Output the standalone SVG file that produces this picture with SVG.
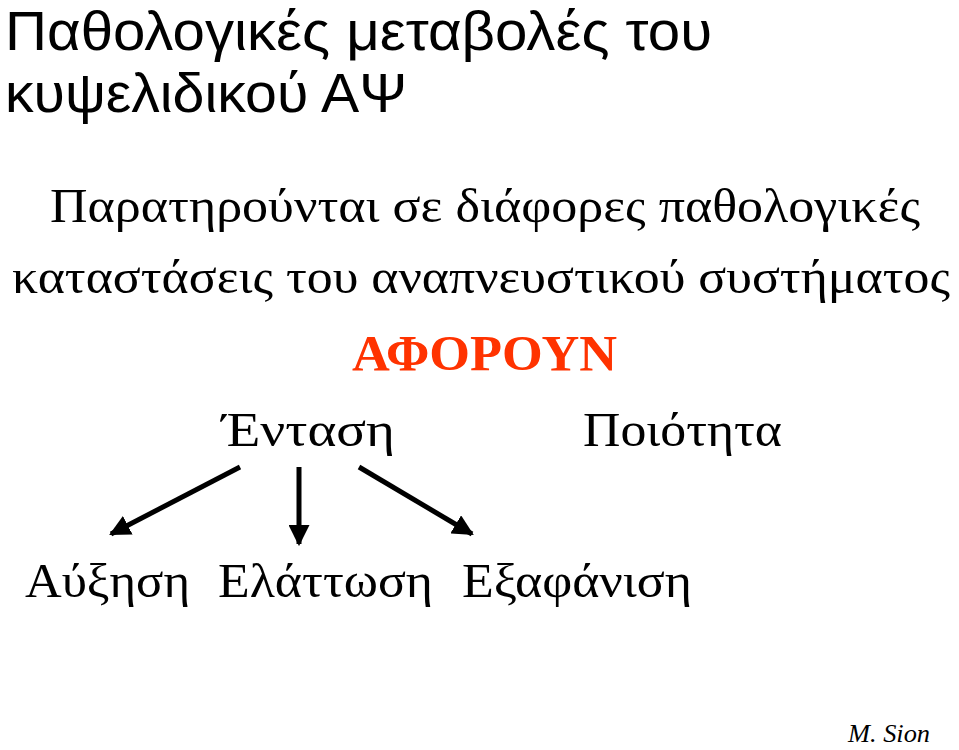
<svg xmlns="http://www.w3.org/2000/svg" width="959" height="750" viewBox="0 0 959 750">
<defs>
<style>
.title{font-family:"Liberation Sans","DejaVu Sans",sans-serif;font-size:55px;fill:#000}
.body{font-family:"Liberation Serif","DejaVu Serif",serif;font-size:49px;fill:#000}
.red{font-family:"Liberation Serif",serif;font-size:50px;font-weight:bold;fill:#FF3300}
.sig{font-family:"Liberation Serif",serif;font-style:italic;font-size:25px;fill:#000}
.conn{stroke:#000;stroke-width:5;fill:none}
</style>
<marker id="ah" viewBox="0 0 10 10" refX="9" refY="5" markerWidth="4.2" markerHeight="4.2" markerUnits="strokeWidth" orient="auto">
<path d="M0,0 L10,5 L0,10 z" fill="#000"/>
</marker>
</defs>
<rect width="959" height="750" fill="#fff"/>
<g id="title">
<text class="title" x="5" y="50" textLength="707" lengthAdjust="spacingAndGlyphs">Παθολογικές μεταβολές του</text>
<text class="title" x="5" y="112" textLength="402" lengthAdjust="spacingAndGlyphs">κυψελιδικού ΑΨ</text>
</g>
<g id="intro">
<text class="body" x="50" y="222" textLength="870" lengthAdjust="spacingAndGlyphs">Παρατηρούνται σε διάφορες παθολογικές</text>
<text class="body" x="12" y="293" textLength="938" lengthAdjust="spacingAndGlyphs">καταστάσεις του αναπνευστικού συστήματος</text>
</g>
<g id="afoyn"><text class="red" x="352" y="370" textLength="265" lengthAdjust="spacingAndGlyphs">ΑΦΟΡΟΥΝ</text></g>
<g id="entasi"><text class="body" x="222" y="446" textLength="173" lengthAdjust="spacingAndGlyphs">Ένταση</text></g>
<g id="poiotita"><text class="body" x="583" y="446" textLength="199" lengthAdjust="spacingAndGlyphs">Ποιότητα</text></g>
<g id="afxisi"><text class="body" x="25" y="597" textLength="165" lengthAdjust="spacingAndGlyphs">Αύξηση</text></g>
<g id="elattosi"><text class="body" x="218" y="597" textLength="215" lengthAdjust="spacingAndGlyphs">Ελάττωση</text></g>
<g id="exafanisi"><text class="body" x="462" y="597" textLength="230" lengthAdjust="spacingAndGlyphs">Εξαφάνιση</text></g>
<g id="connectors">
<line class="conn" x1="240" y1="467" x2="111" y2="534" marker-end="url(#ah)"/>
<line class="conn" x1="299" y1="467" x2="299" y2="544" marker-end="url(#ah)"/>
<line class="conn" x1="359" y1="467" x2="472" y2="534" marker-end="url(#ah)"/>
</g>
<g id="signature"><text class="sig" x="848" y="742" textLength="82" lengthAdjust="spacingAndGlyphs">M. Sion</text></g>
</svg>
